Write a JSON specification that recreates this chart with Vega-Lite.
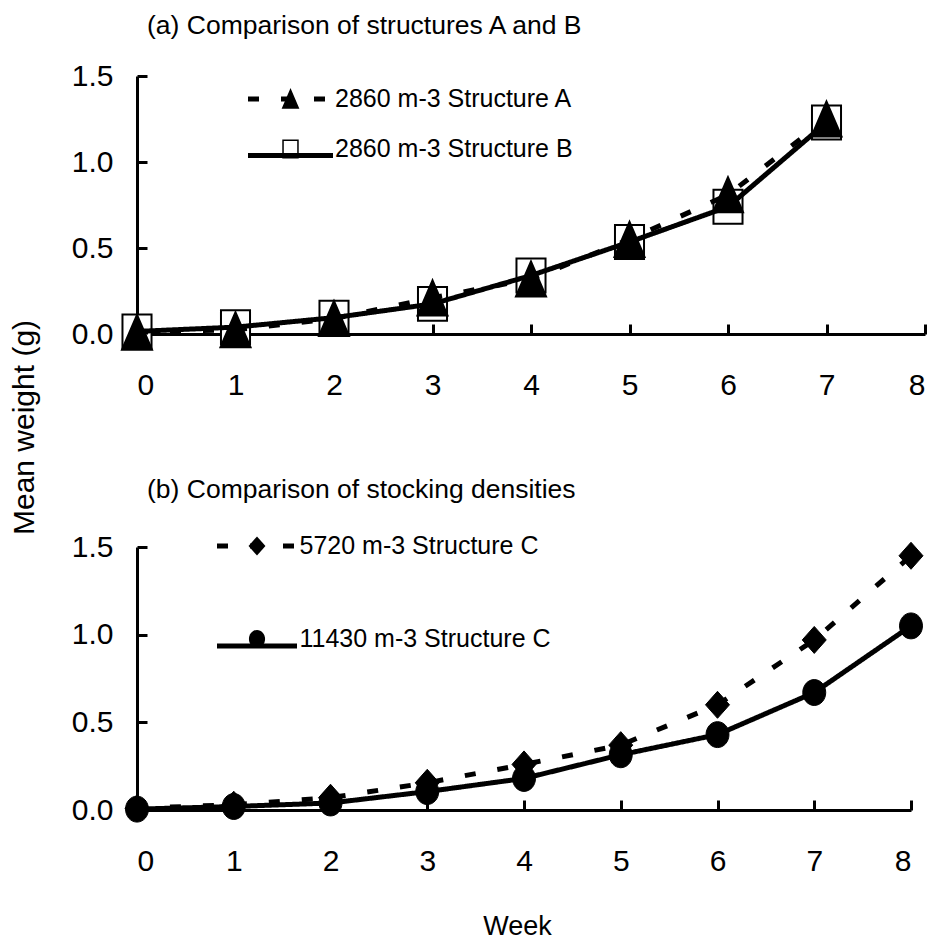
{
  "$schema": "https://vega.github.io/schema/vega-lite/v6.json",
  "background": "white",
  "padding": {"left": 9, "top": 12, "right": 5, "bottom": 3},
  "bounds": "flush",
  "spacing": 213,
  "resolve": {
    "scale": {"strokeDash": "independent", "shape": "independent", "fill": "independent", "stroke": "independent"},
    "legend": {"strokeDash": "independent", "shape": "independent", "fill": "independent", "stroke": "independent"}
  },
  "config": {
    "view": {"stroke": null},
    "font": "Liberation Sans",
    "axis": {
      "grid": false,
      "domainColor": "black",
      "domainWidth": 3,
      "tickColor": "black",
      "tickWidth": 3,
      "tickSize": -10,
      "labelColor": "black",
      "labelFont": "Liberation Sans",
      "labelFontSize": 30,
      "titleColor": "black",
      "titleFont": "Liberation Sans",
      "titleFontWeight": "normal"
    },
    "title": {
      "font": "Liberation Sans",
      "fontSize": 26.5,
      "fontWeight": "normal",
      "anchor": "start",
      "frame": "group",
      "color": "black"
    },
    "legend": {
      "labelFont": "Liberation Sans",
      "labelFontSize": 25,
      "labelColor": "black",
      "labelLimit": 0,
      "padding": 0
    }
  },
  "vconcat": [
    {
      "width": 788,
      "height": 258,
      "title": {"text": "(a) Comparison of structures A and B", "dx": 10, "offset": 15},
      "data": {
        "values": [
          {"week": 0, "weight": 0.015, "series": "2860 m-3 Structure B"},
          {"week": 1, "weight": 0.04, "series": "2860 m-3 Structure B"},
          {"week": 2, "weight": 0.095, "series": "2860 m-3 Structure B"},
          {"week": 3, "weight": 0.175, "series": "2860 m-3 Structure B"},
          {"week": 4, "weight": 0.34, "series": "2860 m-3 Structure B"},
          {"week": 5, "weight": 0.535, "series": "2860 m-3 Structure B"},
          {"week": 6, "weight": 0.74, "series": "2860 m-3 Structure B"},
          {"week": 7, "weight": 1.23, "series": "2860 m-3 Structure B"},
          {"week": 0, "weight": 0.01, "series": "2860 m-3 Structure A"},
          {"week": 1, "weight": 0.025, "series": "2860 m-3 Structure A"},
          {"week": 2, "weight": 0.09, "series": "2860 m-3 Structure A"},
          {"week": 3, "weight": 0.21, "series": "2860 m-3 Structure A"},
          {"week": 4, "weight": 0.32, "series": "2860 m-3 Structure A"},
          {"week": 5, "weight": 0.55, "series": "2860 m-3 Structure A"},
          {"week": 6, "weight": 0.81, "series": "2860 m-3 Structure A"},
          {"week": 7, "weight": 1.25, "series": "2860 m-3 Structure A"}
        ]
      },
      "encoding": {
        "x": {
          "field": "week", "type": "quantitative",
          "scale": {"domain": [0, 8], "nice": false},
          "axis": {"values": [0, 1, 2, 3, 4, 5, 6, 7, 8], "format": "d", "title": null, "labelPadding": 46}
        },
        "y": {
          "field": "weight", "type": "quantitative",
          "scale": {"domain": [0, 1.5], "nice": false},
          "axis": {
            "values": [0, 0.5, 1, 1.5], "format": ".1f", "labelPadding": 34,
            "title": "Mean weight (g)", "titleFontSize": 30, "titleX": -113, "titleY": 351,
            "titleAlign": "center", "titleBaseline": "middle", "titleAngle": -90
          }
        }
      },
      "layer": [
        {
          "transform": [{"filter": "datum.series === '2860 m-3 Structure B'"}],
          "mark": {"type": "point", "filled": false, "opacity": 1, "strokeWidth": 2, "size": 1225},
          "encoding": {
            "shape": {
              "field": "series", "type": "nominal",
              "scale": {"domain": ["2860 m-3 Structure A", "2860 m-3 Structure B"], "range": ["M0,-1L-0.86,1L0.86,1Z", "M-0.83,-0.97H0.83V0.97H-0.83Z"]},
              "legend": {
                "orient": "none", "legendX": 141, "legendY": 10.5, "title": null,
                "symbolSize": 324, "symbolStrokeColor": "black", "symbolStrokeWidth": 1.5,
                "rowPadding": 24, "labelOffset": 32
              }
            },
            "fill": {
              "field": "series", "type": "nominal",
              "scale": {"domain": ["2860 m-3 Structure A", "2860 m-3 Structure B"], "range": ["black", "white"]},
              "legend": {
                "orient": "none", "legendX": 141, "legendY": 10.5, "title": null,
                "symbolSize": 324, "symbolStrokeColor": "black", "symbolStrokeWidth": 1.5,
                "rowPadding": 24, "labelOffset": 32
              }
            },
            "stroke": {
              "field": "series", "type": "nominal",
              "scale": {"domain": ["2860 m-3 Structure A", "2860 m-3 Structure B"], "range": ["black", "black"]},
              "legend": {
                "orient": "none", "legendX": 141, "legendY": 10.5, "title": null,
                "symbolSize": 324, "symbolStrokeColor": "black", "symbolStrokeWidth": 1.5,
                "rowPadding": 24, "labelOffset": 32
              }
            }
          }
        },
        {
          "mark": {"type": "line", "strokeWidth": 5, "color": "black", "strokeCap": "butt"},
          "encoding": {
            "strokeDash": {
              "field": "series", "type": "nominal",
              "scale": {"domain": ["2860 m-3 Structure A", "2860 m-3 Structure B", "x"], "range": [[11, 22], [1, 0], [1, 0]]},
              "legend": {
                "orient": "none", "legendX": 108.5, "legendY": -22, "title": null,
                "values": ["2860 m-3 Structure A", "2860 m-3 Structure B"],
                "symbolType": "stroke", "symbolSize": 7225, "symbolStrokeWidth": 5,
                "symbolStrokeColor": "black", "rowPadding": 1.5,
                "labelFontSize": 1, "labelOpacity": 0
              }
            }
          }
        },
        {
          "transform": [{"filter": "datum.series === '2860 m-3 Structure A'"}],
          "mark": {"type": "point", "filled": false, "opacity": 1, "strokeWidth": 2, "size": 1225},
          "encoding": {
            "shape": {"field": "series", "type": "nominal"},
            "fill": {"field": "series", "type": "nominal"},
            "stroke": {"field": "series", "type": "nominal"}
          }
        }
      ]
    },
    {
      "width": 774,
      "height": 263,
      "title": {"text": "(b) Comparison of stocking densities", "dx": 10, "offset": 0},
      "data": {
        "values": [
          {"week": 0, "weight": 0.01, "series": "5720 m-3 Structure C"},
          {"week": 1, "weight": 0.03, "series": "5720 m-3 Structure C"},
          {"week": 2, "weight": 0.07, "series": "5720 m-3 Structure C"},
          {"week": 3, "weight": 0.155, "series": "5720 m-3 Structure C"},
          {"week": 4, "weight": 0.26, "series": "5720 m-3 Structure C"},
          {"week": 5, "weight": 0.37, "series": "5720 m-3 Structure C"},
          {"week": 6, "weight": 0.6, "series": "5720 m-3 Structure C"},
          {"week": 7, "weight": 0.97, "series": "5720 m-3 Structure C"},
          {"week": 8, "weight": 1.45, "series": "5720 m-3 Structure C"},
          {"week": 0, "weight": 0.005, "series": "11430 m-3 Structure C"},
          {"week": 1, "weight": 0.02, "series": "11430 m-3 Structure C"},
          {"week": 2, "weight": 0.04, "series": "11430 m-3 Structure C"},
          {"week": 3, "weight": 0.105, "series": "11430 m-3 Structure C"},
          {"week": 4, "weight": 0.18, "series": "11430 m-3 Structure C"},
          {"week": 5, "weight": 0.315, "series": "11430 m-3 Structure C"},
          {"week": 6, "weight": 0.43, "series": "11430 m-3 Structure C"},
          {"week": 7, "weight": 0.67, "series": "11430 m-3 Structure C"},
          {"week": 8, "weight": 1.05, "series": "11430 m-3 Structure C"}
        ]
      },
      "encoding": {
        "x": {
          "field": "week", "type": "quantitative",
          "scale": {"domain": [0, 8], "nice": false},
          "axis": {
            "values": [0, 1, 2, 3, 4, 5, 6, 7, 8], "format": "d", "labelPadding": 46,
            "title": "Week", "titleFontSize": 27, "titleX": 380, "titleY": 116,
            "titleAlign": "center", "titleBaseline": "middle"
          }
        },
        "y": {
          "field": "weight", "type": "quantitative",
          "scale": {"domain": [0, 1.5], "nice": false},
          "axis": {"values": [0, 0.5, 1, 1.5], "format": ".1f", "labelPadding": 34, "title": null}
        }
      },
      "layer": [
        {
          "mark": {"type": "line", "strokeWidth": 5, "color": "black", "strokeCap": "butt"},
          "encoding": {
            "strokeDash": {
              "field": "series", "type": "nominal",
              "scale": {"domain": ["5720 m-3 Structure C", "11430 m-3 Structure C"], "range": [[11, 22], [1, 0]]},
              "legend": {
                "orient": "none", "legendX": 77.5, "legendY": -43.5, "title": null,
                "symbolType": "stroke", "symbolSize": 6400, "symbolStrokeWidth": 5,
                "symbolStrokeColor": "black", "rowPadding": 47,
                "labelFontSize": 1, "labelOpacity": 0
              }
            }
          }
        },
        {
          "mark": {"type": "point", "filled": true, "opacity": 1, "color": "black", "stroke": "black", "strokeWidth": 1, "size": 729},
          "encoding": {
            "shape": {
              "field": "series", "type": "nominal",
              "sort": ["5720 m-3 Structure C", "11430 m-3 Structure C"],
              "scale": {"range": ["M0,-1L0.89,0L0,1L-0.89,0Z", "M-0.85,0A0.85,0.96,0,1,1,0.85,0A0.85,0.96,0,1,1,-0.85,0Z"]},
              "legend": {
                "orient": "none", "legendX": 107.5, "legendY": -13.5, "title": null,
                "symbolSize": 361, "symbolStrokeColor": "black", "symbolFillColor": "black", "symbolStrokeWidth": 1,
                "rowPadding": 67, "labelOffset": 30
              }
            }
          }
        }
      ]
    }
  ]
}
